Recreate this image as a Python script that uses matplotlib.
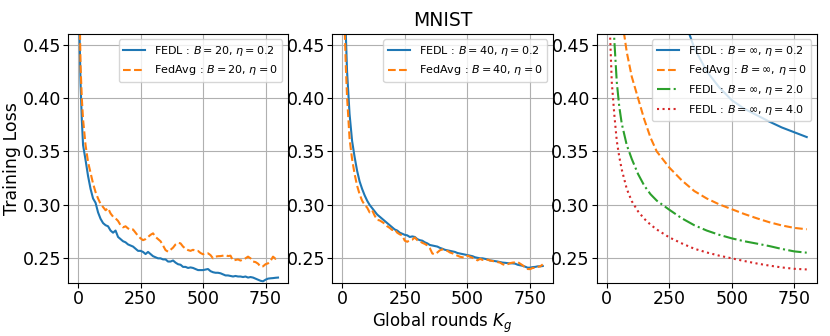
import matplotlib
matplotlib.use("Agg")
import matplotlib.pyplot as plt

# rounds used for the noisy curves (panels 1 and 2)
rounds = [0, 5, 10, 15, 20] + list(range(30, 801, 10))

# panel 1 : B = 20
fedl_b20 = [0.90, 0.47, 0.414, 0.38, 0.356,
            0.342, 0.327, 0.315, 0.306, 0.302, 0.293, 0.287, 0.283, 0.281, 0.280,
            0.276, 0.274, 0.276, 0.270, 0.268, 0.266, 0.265, 0.263, 0.262, 0.261,
            0.259, 0.257, 0.257, 0.256, 0.254, 0.256, 0.254, 0.252, 0.251, 0.250,
            0.250, 0.249, 0.249, 0.247, 0.247, 0.248, 0.246, 0.2445, 0.244, 0.242,
            0.242, 0.241, 0.2415, 0.241, 0.240, 0.239, 0.239, 0.239, 0.2395, 0.240,
            0.238, 0.237, 0.2365, 0.2365, 0.236, 0.235, 0.234, 0.234, 0.2335, 0.233,
            0.2335, 0.233, 0.233, 0.2325, 0.233, 0.232, 0.2325, 0.232, 0.231, 0.230,
            0.229, 0.2285, 0.230, 0.231, 0.2313, 0.2315, 0.2318, 0.232]
fedavg_b20 = [0.95, 0.50, 0.43, 0.40, 0.38,
              0.356, 0.340, 0.330, 0.320, 0.312, 0.306, 0.301, 0.298, 0.295, 0.297,
              0.292, 0.289, 0.2874, 0.285, 0.281, 0.279, 0.280, 0.278, 0.2766, 0.277,
              0.274, 0.271, 0.2687, 0.267, 0.268, 0.270, 0.272, 0.2734, 0.270, 0.268,
              0.266, 0.262, 0.2577, 0.2562, 0.258, 0.260, 0.263, 0.2645, 0.264, 0.261,
              0.259, 0.2577, 0.257, 0.258, 0.257, 0.2569, 0.255, 0.2538, 0.2545, 0.2547,
              0.253, 0.250, 0.2516, 0.252, 0.2521, 0.2525, 0.253, 0.2521, 0.2525, 0.2479,
              0.2485, 0.249, 0.2479, 0.249, 0.250, 0.2516, 0.250, 0.247, 0.2465, 0.245,
              0.2423, 0.2425, 0.2445, 0.2453, 0.2475, 0.2516, 0.2495, 0.251]

# panel 2 : B = 40
fedl_b40 = [1.0, 0.60, 0.50, 0.46, 0.425,
            0.385, 0.360, 0.345, 0.332, 0.322, 0.315, 0.309, 0.304, 0.300, 0.297,
            0.294, 0.291, 0.289, 0.287, 0.285, 0.283, 0.281, 0.279, 0.277, 0.276,
            0.274, 0.273, 0.272, 0.2715, 0.270, 0.2705, 0.270, 0.268, 0.267, 0.2665,
            0.265, 0.264, 0.2625, 0.262, 0.2615, 0.261, 0.2598, 0.259, 0.258, 0.2575,
            0.257, 0.2565, 0.256, 0.255, 0.2545, 0.254, 0.2535, 0.253, 0.2525, 0.252,
            0.251, 0.2505, 0.250, 0.250, 0.2495, 0.249, 0.248, 0.2478, 0.2474, 0.247,
            0.2465, 0.246, 0.2458, 0.2455, 0.2453, 0.2453, 0.245, 0.244, 0.2435, 0.243,
            0.2422, 0.2412, 0.2413, 0.2418, 0.242, 0.2425, 0.2425, 0.2428]
fedavg_b40 = [1.0, 0.55, 0.47, 0.43, 0.401,
              0.362, 0.343, 0.329, 0.318, 0.310, 0.304, 0.300, 0.2975, 0.293, 0.295,
              0.290, 0.286, 0.2855, 0.284, 0.2825, 0.280, 0.2785, 0.2765, 0.277, 0.274,
              0.2725, 0.2715, 0.2665, 0.2655, 0.267, 0.2675, 0.2695, 0.267, 0.266, 0.2645,
              0.2635, 0.262, 0.2595, 0.2545, 0.2538, 0.2555, 0.2575, 0.2584, 0.2575, 0.257,
              0.2555, 0.2547, 0.2535, 0.2525, 0.2515, 0.251, 0.2505, 0.2525, 0.2515, 0.2505,
              0.2495, 0.2481, 0.2495, 0.2485, 0.249, 0.2487, 0.248, 0.2475, 0.247, 0.2465,
              0.246, 0.2445, 0.2437, 0.2445, 0.2455, 0.246, 0.2462, 0.2465, 0.245, 0.2435,
              0.2415, 0.240, 0.2399, 0.241, 0.241, 0.242, 0.2425, 0.2443]

# panel 3 : B = inf (smooth curves)
rounds_inf = [0, 10, 20, 30, 40, 50, 60, 80, 100, 125, 150, 175, 200, 250, 300,
              350, 400, 450, 500, 550, 600, 650, 700, 750, 800]
fedl_inf_02 = [1.6, 1.45, 1.3, 1.18, 1.08, 1.0, 0.93, 0.83, 0.75, 0.68, 0.62, 0.58,
               0.56, 0.52, 0.48, 0.447, 0.425, 0.41, 0.398, 0.39, 0.384, 0.378,
               0.3725, 0.368, 0.3635]
fedavg_inf = [1.5, 1.0, 0.8, 0.65, 0.56, 0.51, 0.475, 0.443, 0.42, 0.40, 0.38, 0.363,
              0.35, 0.335, 0.323, 0.313, 0.306, 0.3005, 0.296, 0.2915, 0.2875, 0.2838,
              0.2808, 0.2785, 0.2772]
fedl_inf_20 = [1.2, 0.8, 0.55, 0.455, 0.415, 0.392, 0.376, 0.356, 0.343, 0.329, 0.318,
               0.31, 0.304, 0.2955, 0.2875, 0.281, 0.276, 0.272, 0.2687, 0.266, 0.2638,
               0.2615, 0.2588, 0.2565, 0.2553]
fedl_inf_40 = [1.0, 0.48, 0.415, 0.385, 0.36, 0.345, 0.333, 0.315, 0.3035, 0.294, 0.287,
               0.2815, 0.277, 0.2696, 0.264, 0.259, 0.2555, 0.2525, 0.25, 0.2475, 0.2452,
               0.2432, 0.2415, 0.2402, 0.2396]

fig = plt.figure(figsize=(8.3, 3.36), dpi=100)
ax1 = fig.add_axes([0.082, 0.158, 0.265, 0.741])
ax2 = fig.add_axes([0.400, 0.158, 0.266, 0.741])
ax3 = fig.add_axes([0.719, 0.158, 0.265, 0.741])

ax1.plot(rounds, fedl_b20, color="tab:blue", lw=1.5, label=r"FEDL : $B = 20$, $\eta = 0.2$")
ax1.plot(rounds, fedavg_b20, color="tab:orange", lw=1.5, ls="--", label=r"FedAvg : $B = 20$, $\eta = 0$")

ax2.plot(rounds, fedl_b40, color="tab:blue", lw=1.5, label=r"FEDL : $B = 40$, $\eta = 0.2$")
ax2.plot(rounds, fedavg_b40, color="tab:orange", lw=1.5, ls="--", label=r"FedAvg : $B = 40$, $\eta = 0$")

ax3.plot(rounds_inf, fedl_inf_02, color="tab:blue", lw=1.5, label=r"FEDL : $B = \infty$, $\eta = 0.2$")
ax3.plot(rounds_inf, fedavg_inf, color="tab:orange", lw=1.5, ls="--", label=r"FedAvg : $B = \infty$, $\eta = 0$")
ax3.plot(rounds_inf, fedl_inf_20, color="tab:green", lw=1.5, ls="-.", label=r"FEDL : $B = \infty$, $\eta = 2.0$")
ax3.plot(rounds_inf, fedl_inf_40, color="tab:red", lw=1.5, ls=":", label=r"FEDL : $B = \infty$, $\eta = 4.0$")

for ax in (ax1, ax2, ax3):
    ax.set_xlim(-40, 840)
    ax.set_ylim(0.227, 0.46)
    ax.set_xticks([0, 250, 500, 750])
    ax.set_yticks([0.25, 0.30, 0.35, 0.40, 0.45])
    ax.grid(True, color="#b0b0b0", lw=0.8)
    ax.tick_params(labelsize=12.5, pad=1.5)
    ax.legend(loc="upper right", fontsize=8)

ax1.set_ylabel("Training Loss", fontsize=12.5)
ax1.yaxis.set_label_coords(-0.215, 0.5)
ax2.set_xlabel(r"Global rounds $K_g$", fontsize=12)
ax2.xaxis.set_label_coords(0.5, -0.112)
ax2.set_title("MNIST", fontsize=13.5)

fig.savefig("out.png", dpi=100)
